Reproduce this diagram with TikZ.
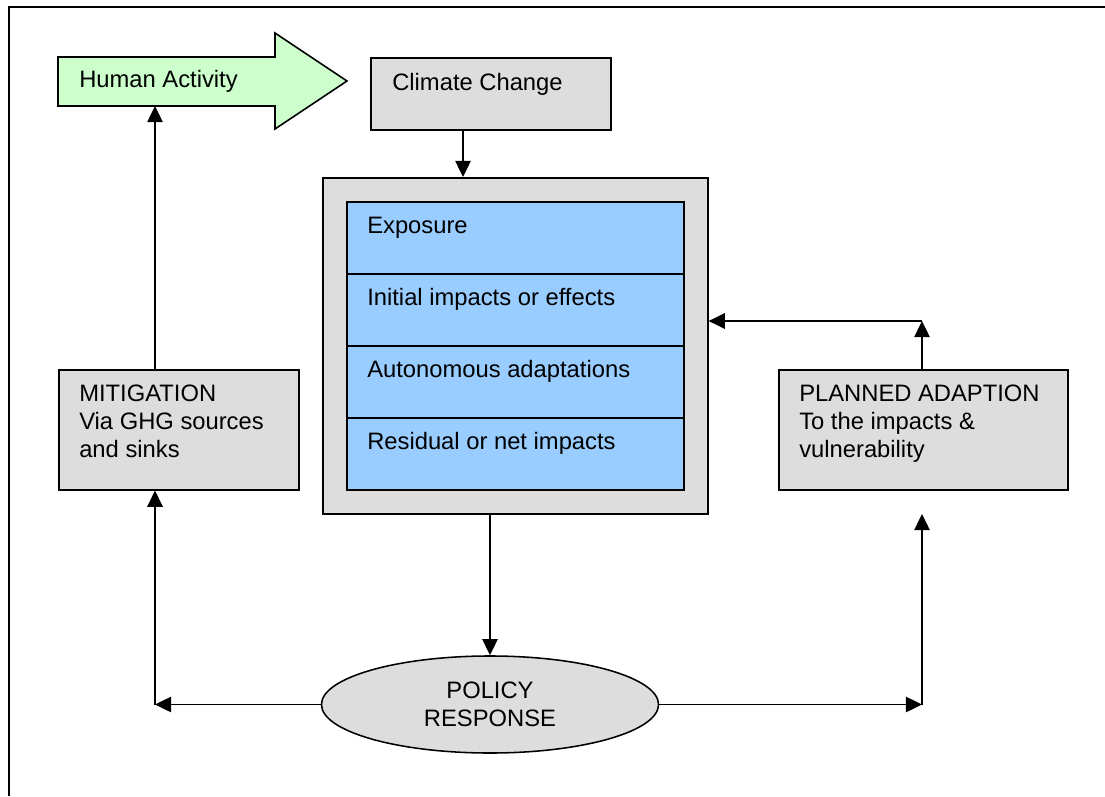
\documentclass[tikz,border=0pt]{standalone}
\usepackage{fontspec}
\setmainfont{Liberation Sans}
\usetikzlibrary{arrows.meta}
\usetikzlibrary{shapes.geometric}

\definecolor{boxgray}{HTML}{DDDDDD}
\definecolor{layerblue}{HTML}{99CCFF}
\definecolor{actgreen}{HTML}{CCFFCC}

\begin{document}
\begin{tikzpicture}[x=0.025cm,y=-0.025cm,
  every node/.style={font=\fontsize{16.9}{19.9}\selectfont},
  greybox/.style={draw,line width=1.1pt,fill=boxgray,inner sep=0pt,anchor=north west},
  layer/.style={draw,line width=1.1pt,fill=layerblue,inner sep=0pt,anchor=north west,
    minimum width=8.425cm,minimum height=1.8cm},
  txt/.style={inner sep=0pt,anchor=base west},
  mtxt/.style={inner sep=0pt,anchor=north west,align=left},
  arr/.style={line width=1pt,-{Triangle[length=11.5pt,width=11pt]}}]
  % Boundary
  \path[use as bounding box] (0,0) rectangle (1105,796);
  \draw[line width=1.8pt] (9,796) -- (9,7) -- (1105,7);
  % Human activity arrow
  \filldraw[fill=actgreen,line width=1.1pt] (58,57) -- (275,57) -- (275,33) -- (347,81)
    -- (275,129) -- (275,106) -- (58,106) -- cycle;
  \node[txt] (human) at (79,87) {Human Activity};
  \coordinate (hbase) at (155,106);
  % Climate change
  \node[greybox,minimum width=6cm,minimum height=1.8cm] (cc) at (370,57) {};
  \node[txt] (cctxt) at (392,90) {Climate Change};
  % Impact layers
  \node[greybox,minimum width=9.625cm,minimum height=8.4cm] (outer) at (322,177) {};
  \foreach \lbl [count=\i from 0] in {Exposure, Initial impacts or effects,
      Autonomous adaptations, Residual or net impacts} {
    \node[layer] (row\i) at (346,201+72*\i) {};
    \node[txt] (rowtxt\i) at (367,233+72*\i) {\lbl};
  }
  % Side boxes
  \node[greybox,minimum width=6cm,minimum height=3cm] (mit) at (58,369) {};
  \node[mtxt] (mittxt) at (79,385) {MITIGATION\\Via GHG sources\\and sinks};
  \node[greybox,minimum width=7.225cm,minimum height=3cm] (pla) at (778,369) {};
  \node[mtxt] (platxt) at (799,385) {PLANNED ADAPTION\\To the impacts \&\\vulnerability};
  % Policy response
  \node[ellipse,draw,fill=boxgray,line width=1.1pt,inner sep=0pt,align=center,
    minimum width=8.425cm,minimum height=2.425cm] (pol) at (490,704.5) {POLICY\\RESPONSE};
  % Connectors
  \coordinate (ccdrop) at (463,0);
  \coordinate (lcorner) at (155,704.5);
  \coordinate (rcorner) at (922,704.5);
  \coordinate (ptip) at (922,514);
  \coordinate (pcorner) at (922,321);
  \draw[arr] (ccdrop |- cc.south) -- (ccdrop |- outer.north);
  \draw[arr] (pol.north |- outer.south) -- (pol.north);
  \draw[arr] (pol.west) -- (lcorner);
  \draw[arr] (lcorner) -- (lcorner |- mit.south);
  \draw[arr] (lcorner |- mit.north) -- (hbase);
  \draw[arr] (pol.east) -- (rcorner);
  \draw[arr] (rcorner) -- (ptip);
  \draw[arr] (pcorner |- pla.north) -- (pcorner);
  \draw[arr] (pcorner) -- (pcorner -| outer.east);
\end{tikzpicture}
\end{document}
